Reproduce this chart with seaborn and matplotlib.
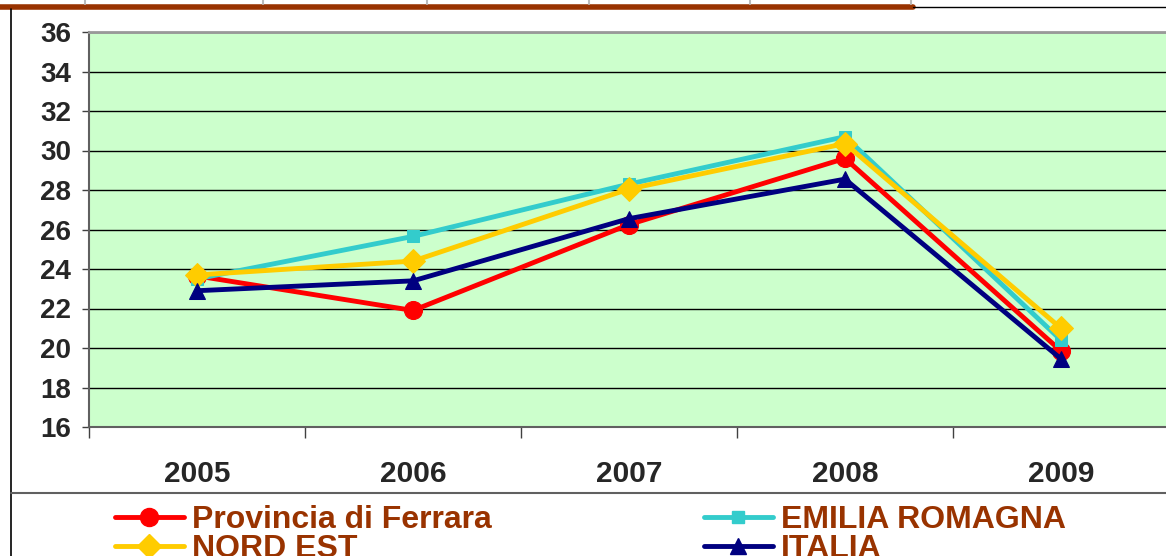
import pandas as pd
import matplotlib
matplotlib.use("Agg")
import matplotlib.pyplot as plt
from matplotlib.lines import Line2D
from matplotlib.ticker import FixedLocator
import seaborn as sns

# ===============================
# Data
# ===============================
years = ["2005", "2006", "2007", "2008", "2009"]
ferrara = [23.65, 21.9, 26.25, 29.6, 19.85]
emilia = [23.5, 25.65, 28.3, 30.7, 20.4]
nord_est = [23.7, 24.4, 28.05, 30.35, 21.0]
italia = [22.9, 23.4, 26.55, 28.55, 19.45]

series_names = ["Provincia di Ferrara", "EMILIA ROMAGNA", "NORD EST", "ITALIA"]
series_values = [ferrara, emilia, nord_est, italia]
colors = ["#FF0000", "#33CCCC", "#FFCC00", "#000080"]
markers = ["o", "s", "D", "^"]
marker_sizes = [13, 9, 12, 11]

rows = []
for name, vals in zip(series_names, series_values):
    for yr, v in zip(years, vals):
        rows.append({"year": yr, "value": v, "serie": name})
df = pd.DataFrame(rows)

# ===============================
# Figure
# ===============================
sns.set_style("white")
plt.rcParams["font.family"] = ["Liberation Sans", "DejaVu Sans"]

W, H = 1166, 556
fig = plt.figure(figsize=(W / 100, H / 100), dpi=100)
ax = fig.add_axes([89 / W, 1 - 427 / H, 1080 / W, 395 / H])
ax.set_facecolor("#CCFFCC")

handles = {}
for name, col, mk, ms in zip(series_names, colors, markers, marker_sizes):
    sub = df[df["serie"] == name]
    sns.lineplot(data=sub, x="year", y="value", color=col, marker=mk,
                 markersize=ms, markeredgecolor=col, linewidth=3.5, ax=ax,
                 sort=False)
    handles[name] = Line2D([], [], color=col, marker=mk, markersize=ms,
                           markeredgecolor=col, linewidth=3.5)

# axes
ax.set_ylim(16, 36)
ax.set_xlim(-0.5, 4.5)
ax.set_yticks(range(16, 37, 2))
ax.set_xlabel("")
ax.set_ylabel("")
ax.yaxis.grid(True, color="black", linewidth=1)
ax.set_axisbelow(True)

ax.tick_params(axis="y", length=5, width=1, color="#404040", direction="out",
               pad=8, labelsize=20, left=True)
ax.tick_params(axis="x", which="major", length=0, pad=24, labelsize=21.5)
ax.xaxis.set_minor_locator(FixedLocator([-0.5, 0.5, 1.5, 2.5, 3.5, 4.5]))
ax.tick_params(axis="x", which="minor", length=8, width=1, color="#404040",
               direction="out", bottom=True)
for lab in ax.get_xticklabels() + ax.get_yticklabels():
    lab.set_fontweight("bold")

ax.spines["top"].set_color("#999999")
ax.spines["top"].set_linewidth(2)
ax.spines["left"].set_color("#606060")
ax.spines["left"].set_linewidth(1.5)
ax.spines["bottom"].set_color("#606060")
ax.spines["bottom"].set_linewidth(1.5)
ax.spines["right"].set_visible(False)

# ===============================
# Legend (column-major: red, yellow | cyan, navy)
# ===============================
order = ["Provincia di Ferrara", "NORD EST", "EMILIA ROMAGNA", "ITALIA"]
leg = fig.legend([handles[n] for n in order], order, ncol=2,
                 loc="upper left", bbox_to_anchor=(115 / W, 1 - 505 / H),
                 frameon=False, borderpad=0, borderaxespad=0,
                 handlelength=2.15, handletextpad=0.25, columnspacing=6.65,
                 labelspacing=-0.03, prop={"size": 23, "weight": "bold"})
for t in leg.get_texts():
    t.set_color("#993300")

# ===============================
# Page decorations around the chart
# ===============================
def fline(x0, y0, x1, y1, **kw):
    fig.add_artist(Line2D([x0 / W, x1 / W], [1 - y0 / H, 1 - y1 / H],
                          transform=fig.transFigure, **kw))

fline(0, 6.5, 913, 6.5, color="#993300", linewidth=4)
fline(913, 7, W, 7, color="black", linewidth=1)
for xv in [85, 263, 427, 589, 750, 911]:
    fline(xv, 0, xv, 4, color="#BBBBBB", linewidth=1.5)
fline(11, 9, 11, H, color="black", linewidth=1.2)
fline(11, 493, W, 493, color="#606060", linewidth=1.5)

plt.savefig("out.png", dpi=100)
plt.close()
